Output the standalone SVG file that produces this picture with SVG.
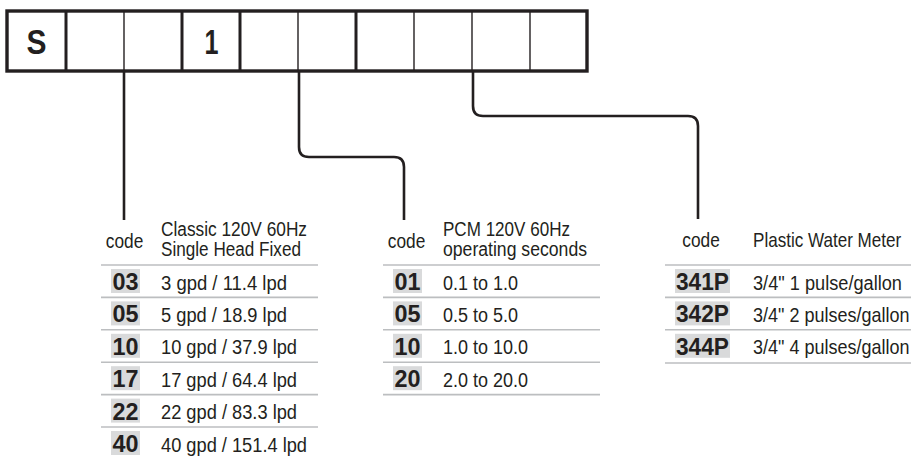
<svg xmlns="http://www.w3.org/2000/svg" width="911" height="458" viewBox="0 0 911 458">
<style>
  .t { font-family: "Liberation Sans", Arial, sans-serif; font-size: 20px; fill: #231f20; }
  .c { font-family: "Liberation Sans", Arial, sans-serif; font-size: 24px; font-weight: bold; fill: #231f20; text-anchor: middle; }
  .big { font-family: "Liberation Sans", Arial, sans-serif; font-size: 35px; font-weight: bold; fill: #231f20; text-anchor: middle; }
  .mid { text-anchor: middle; }
  .sep { stroke: #bcbec0; stroke-width: 1.6; fill: none; }
  .hl { fill: #d9dadb; }
  .conn { stroke: #231f20; stroke-width: 2.6; fill: none; }
  .thick { stroke: #231f20; stroke-width: 3; }
  .thin { stroke: #231f20; stroke-width: 1.4; }
</style>
<rect width="911" height="458" fill="#ffffff"/>

<g id="model-box">
  <rect x="7" y="11" width="580" height="60" fill="#ffffff" stroke="#231f20" stroke-width="3.4"/>
  <line class="thick" x1="66" y1="11" x2="66" y2="71"/>
  <line class="thin" x1="124" y1="11" x2="124" y2="71"/>
  <line class="thick" x1="182" y1="11" x2="182" y2="71"/>
  <line class="thick" x1="240" y1="11" x2="240" y2="71"/>
  <line class="thin" x1="298" y1="11" x2="298" y2="71"/>
  <line class="thick" x1="356" y1="11" x2="356" y2="71"/>
  <line class="thin" x1="414" y1="11" x2="414" y2="71"/>
  <line class="thin" x1="472" y1="11" x2="472" y2="71"/>
  <line class="thin" x1="530" y1="11" x2="530" y2="71"/>
  <text class="big" x="36.5" y="53.5" textLength="20" lengthAdjust="spacingAndGlyphs">S</text>
  <text class="big" x="211.5" y="53.5" textLength="14" lengthAdjust="spacingAndGlyphs">1</text>
</g>

<g id="connectors">
  <path class="conn" d="M124 71 V220"/>
  <path class="conn" d="M299 71 V147 Q299 157 309 157 H394 Q404 157 404 167 V220"/>
  <path class="conn" d="M473 71 V106 Q473 116 483 116 H688 Q698 116 698 126 V219"/>
</g>

<g id="table-classic">
  <text class="t mid" x="124.5" y="248" textLength="37.5" lengthAdjust="spacingAndGlyphs">code</text>
  <text class="t" x="161" y="235.5" textLength="146" lengthAdjust="spacingAndGlyphs">Classic 120V 60Hz</text>
  <text class="t" x="161" y="255.5" textLength="140" lengthAdjust="spacingAndGlyphs">Single Head Fixed</text>
  <line class="sep" x1="101" y1="265" x2="318" y2="265"/>
  <line class="sep" x1="101" y1="297.4" x2="318" y2="297.4"/>
  <line class="sep" x1="101" y1="329.8" x2="318" y2="329.8"/>
  <line class="sep" x1="101" y1="362.2" x2="318" y2="362.2"/>
  <line class="sep" x1="101" y1="394.6" x2="318" y2="394.6"/>
  <line class="sep" x1="101" y1="427" x2="318" y2="427"/>
  <rect class="hl" x="111" y="269" width="29" height="24"/>
  <rect class="hl" x="111" y="301.4" width="29" height="24"/>
  <rect class="hl" x="111" y="333.8" width="29" height="24"/>
  <rect class="hl" x="111" y="366.2" width="29" height="24"/>
  <rect class="hl" x="111" y="398.6" width="29" height="24"/>
  <rect class="hl" x="111" y="431" width="29" height="24"/>
  <text class="c" x="125.5" y="290" textLength="26" lengthAdjust="spacingAndGlyphs">03</text>
  <text class="c" x="125.5" y="322.4" textLength="26" lengthAdjust="spacingAndGlyphs">05</text>
  <text class="c" x="125.5" y="354.8" textLength="26" lengthAdjust="spacingAndGlyphs">10</text>
  <text class="c" x="125.5" y="387.2" textLength="26" lengthAdjust="spacingAndGlyphs">17</text>
  <text class="c" x="125.5" y="419.6" textLength="26" lengthAdjust="spacingAndGlyphs">22</text>
  <text class="c" x="125.5" y="452" textLength="26" lengthAdjust="spacingAndGlyphs">40</text>
  <text class="t" x="161" y="289.5" textLength="126" lengthAdjust="spacingAndGlyphs">3 gpd / 11.4 lpd</text>
  <text class="t" x="161" y="321.9" textLength="126" lengthAdjust="spacingAndGlyphs">5 gpd / 18.9 lpd</text>
  <text class="t" x="161" y="354.3" textLength="136" lengthAdjust="spacingAndGlyphs">10 gpd / 37.9 lpd</text>
  <text class="t" x="161" y="386.7" textLength="136" lengthAdjust="spacingAndGlyphs">17 gpd / 64.4 lpd</text>
  <text class="t" x="161" y="419.1" textLength="136" lengthAdjust="spacingAndGlyphs">22 gpd / 83.3 lpd</text>
  <text class="t" x="161" y="451.5" textLength="146" lengthAdjust="spacingAndGlyphs">40 gpd / 151.4 lpd</text>
</g>

<g id="table-pcm">
  <text class="t mid" x="406.5" y="248" textLength="37.5" lengthAdjust="spacingAndGlyphs">code</text>
  <text class="t" x="443" y="235.5" textLength="127" lengthAdjust="spacingAndGlyphs">PCM 120V 60Hz</text>
  <text class="t" x="443" y="255.5" textLength="144" lengthAdjust="spacingAndGlyphs">operating seconds</text>
  <line class="sep" x1="383" y1="265" x2="600" y2="265"/>
  <line class="sep" x1="383" y1="297.4" x2="600" y2="297.4"/>
  <line class="sep" x1="383" y1="329.8" x2="600" y2="329.8"/>
  <line class="sep" x1="383" y1="362.2" x2="600" y2="362.2"/>
  <line class="sep" x1="383" y1="394.6" x2="600" y2="394.6"/>
  <rect class="hl" x="393" y="269" width="29" height="24"/>
  <rect class="hl" x="393" y="301.4" width="29" height="24"/>
  <rect class="hl" x="393" y="333.8" width="29" height="24"/>
  <rect class="hl" x="393" y="366.2" width="29" height="24"/>
  <text class="c" x="407.5" y="290" textLength="26" lengthAdjust="spacingAndGlyphs">01</text>
  <text class="c" x="407.5" y="322.4" textLength="26" lengthAdjust="spacingAndGlyphs">05</text>
  <text class="c" x="407.5" y="354.8" textLength="26" lengthAdjust="spacingAndGlyphs">10</text>
  <text class="c" x="407.5" y="387.2" textLength="26" lengthAdjust="spacingAndGlyphs">20</text>
  <text class="t" x="443" y="289.5" textLength="75" lengthAdjust="spacingAndGlyphs">0.1 to 1.0</text>
  <text class="t" x="443" y="321.9" textLength="75" lengthAdjust="spacingAndGlyphs">0.5 to 5.0</text>
  <text class="t" x="443" y="354.3" textLength="85" lengthAdjust="spacingAndGlyphs">1.0 to 10.0</text>
  <text class="t" x="443" y="386.7" textLength="85" lengthAdjust="spacingAndGlyphs">2.0 to 20.0</text>
</g>

<g id="table-meter">
  <text class="t mid" x="701" y="247" textLength="37.5" lengthAdjust="spacingAndGlyphs">code</text>
  <text class="t" transform="translate(753 247) scale(0.854 1)" x="0" y="0">Plastic Water Meter</text>
  <line class="sep" x1="665" y1="265" x2="911" y2="265"/>
  <line class="sep" x1="665" y1="297.4" x2="911" y2="297.4"/>
  <line class="sep" x1="665" y1="329.8" x2="911" y2="329.8"/>
  <line class="sep" x1="665" y1="363" x2="911" y2="363"/>
  <rect class="hl" x="675" y="269" width="55" height="24"/>
  <rect class="hl" x="675" y="301.4" width="55" height="24"/>
  <rect class="hl" x="675" y="333.8" width="55" height="24"/>
  <text class="c" x="702.5" y="290" textLength="53" lengthAdjust="spacingAndGlyphs">341P</text>
  <text class="c" x="702.5" y="322.4" textLength="53" lengthAdjust="spacingAndGlyphs">342P</text>
  <text class="c" x="702.5" y="354.8" textLength="53" lengthAdjust="spacingAndGlyphs">344P</text>
  <text class="t" transform="translate(753 289.5) scale(0.909 1)" x="0" y="0">3/4" 1 pulse/gallon</text>
  <text class="t" transform="translate(753 321.9) scale(0.9 1)" x="0" y="0">3/4" 2 pulses/gallon</text>
  <text class="t" transform="translate(753 354.3) scale(0.9 1)" x="0" y="0">3/4" 4 pulses/gallon</text>
</g>
</svg>
